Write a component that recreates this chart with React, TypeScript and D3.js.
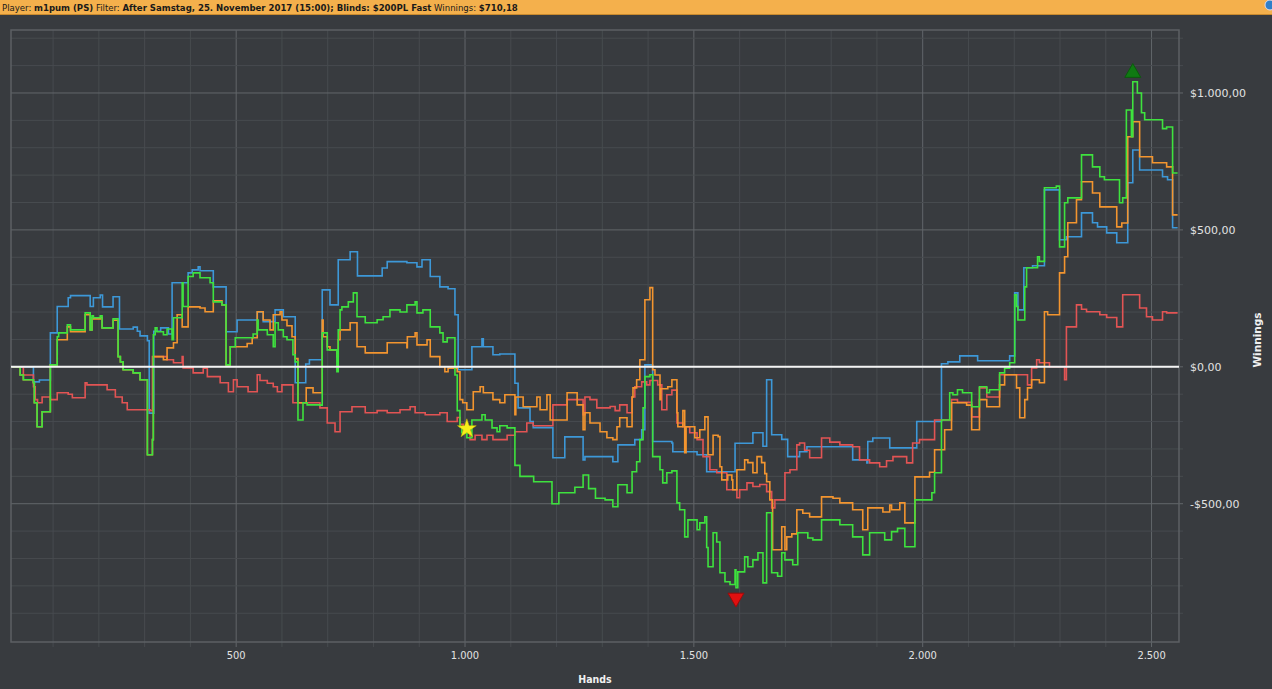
import React from 'react';
import * as d3 from 'd3';

// hands / winnings (step vertices)
const blueHands = [11, 57, 70, 94, 109, 133, 138, 181, 188, 203, 208, 231, 245, 275, 284, 290, 306, 310, 320, 335, 352, 360, 395, 404, 417, 421, 450, 478, 502, 546, 559, 585, 603, 629, 652, 660, 688, 705, 723, 749, 765, 819, 830, 873, 895, 906, 924, 945, 963, 978, 985, 1015, 1037, 1040, 1061, 1076, 1109, 1116, 1142, 1149, 1192, 1218, 1258, 1262, 1295, 1323, 1334, 1371, 1386, 1393, 1410, 1452, 1454, 1507, 1528, 1590, 1629, 1651, 1659, 1670, 1692, 1705, 1731, 1747, 1847, 1878, 1880, 1891, 1928, 1987, 2041, 2055, 2081, 2120, 2190, 2201, 2208, 2221, 2240, 2266, 2299, 2314, 2347, 2371, 2382, 2402, 2424, 2448, 2459, 2474, 2524, 2535, 2546, 2557];
const blueValues = [0, -55, -48, 124, 220, 252, 260, 220, 252, 262, 219, 256, 138, 145, 130, 113, 95, -169, 130, 142, 120, 307, 343, 354, 365, 351, 292, 128, 171, 200, 165, 208, 183, -58, 10, 26, 281, 226, 391, 420, 332, 361, 384, 380, 365, 391, 330, 292, 285, 190, -11, 73, 102, 73, 44, 47, -60, -150, -200, -222, -332, -256, -340, -328, -328, -347, -285, -266, -230, 7, -273, -278, -310, -321, -383, -279, -241, -290, -47, -248, -265, -328, -310, -292, -340, -351, -273, -260, -296, -200, 11, 18, 40, 22, 40, 270, 208, 362, 369, 646, 464, 475, 562, 526, 511, 489, 453, 672, 792, 719, 694, 683, 508, 508];

const greenHands = [11, 28, 35, 57, 59, 65, 76, 94, 109, 112, 131, 138, 170, 181, 185, 188, 203, 207, 231, 242, 247, 253, 275, 290, 306, 317, 319, 323, 327, 341, 349, 360, 363, 382, 384, 395, 406, 421, 443, 450, 469, 478, 487, 498, 537, 546, 548, 568, 581, 585, 592, 603, 611, 624, 629, 635, 646, 655, 683, 688, 699, 720, 723, 727, 731, 745, 756, 764, 782, 808, 821, 836, 858, 873, 891, 895, 908, 924, 945, 952, 961, 978, 983, 989, 993, 1004, 1015, 1037, 1044, 1059, 1070, 1076, 1092, 1109, 1120, 1150, 1190, 1205, 1240, 1258, 1270, 1285, 1306, 1323, 1334, 1354, 1365, 1375, 1382, 1389, 1393, 1404, 1410, 1426, 1432, 1441, 1452, 1463, 1469, 1480, 1487, 1507, 1513, 1524, 1528, 1531, 1542, 1550, 1557, 1568, 1579, 1590, 1592, 1596, 1611, 1618, 1629, 1640, 1651, 1659, 1670, 1683, 1692, 1699, 1716, 1727, 1749, 1760, 1779, 1819, 1847, 1869, 1884, 1917, 1932, 1945, 1961, 1983, 2020, 2026, 2041, 2059, 2066, 2076, 2087, 2107, 2124, 2140, 2146, 2168, 2179, 2190, 2201, 2205, 2208, 2223, 2227, 2251, 2255, 2266, 2292, 2299, 2310, 2317, 2347, 2371, 2387, 2397, 2430, 2437, 2445, 2456, 2459, 2469, 2478, 2485, 2524, 2533, 2546, 2557];
const greenValues = [0, -30, -47, -58, -131, -219, -164, 7, 110, 124, 153, 135, 197, 135, 186, 179, 186, 142, 175, 37, 18, -11, -22, -47, -321, -266, 117, 142, 128, 117, 138, 99, 179, 307, 220, 330, 343, 325, 307, 237, 226, 7, 73, 106, 120, 171, 135, 117, 73, 161, 135, 110, 99, 44, 18, -194, -131, -139, -140, 124, 62, -18, 135, 208, 219, 237, 270, 183, 161, 172, 183, 208, 200, 226, 237, 197, 208, 146, 124, 91, 106, -30, -160, -219, -241, -259, -194, -175, -194, -223, -237, -215, -223, -360, -400, -420, -500, -460, -440, -395, -445, -480, -486, -511, -431, -460, -383, -347, -266, -150, -36, -29, -328, -376, -424, -387, -380, -497, -522, -621, -559, -595, -570, -548, -660, -730, -606, -640, -752, -785, -795, -741, -807, -749, -694, -730, -705, -679, -789, -533, -752, -765, -679, -705, -723, -606, -625, -632, -559, -577, -621, -687, -606, -632, -602, -590, -657, -486, -460, -387, -194, -95, -102, -84, -95, -146, -73, -95, -84, -22, -5, 15, 263, 220, 171, 292, 362, 402, 385, 654, 660, 438, 599, 617, 774, 730, 694, 683, 599, 617, 938, 840, 1041, 1000, 928, 902, 870, 876, 708, 708];

const orangeHands = [11, 28, 35, 57, 59, 65, 76, 94, 109, 131, 138, 170, 181, 185, 188, 203, 207, 231, 242, 247, 253, 275, 290, 306, 317, 319, 341, 349, 363, 371, 382, 395, 421, 432, 450, 469, 478, 487, 524, 535, 546, 559, 574, 581, 596, 600, 611, 622, 629, 635, 653, 668, 688, 690, 699, 705, 720, 723, 727, 749, 764, 782, 830, 873, 874, 891, 895, 917, 924, 945, 956, 963, 983, 989, 995, 1004, 1018, 1033, 1040, 1061, 1076, 1087, 1109, 1111, 1127, 1157, 1164, 1179, 1186, 1223, 1245, 1258, 1262, 1273, 1295, 1310, 1323, 1332, 1338, 1354, 1365, 1367, 1375, 1382, 1393, 1404, 1410, 1415, 1426, 1428, 1443, 1452, 1463, 1465, 1476, 1480, 1483, 1502, 1513, 1524, 1531, 1542, 1553, 1557, 1561, 1574, 1583, 1585, 1594, 1611, 1618, 1629, 1638, 1648, 1655, 1659, 1666, 1672, 1692, 1699, 1703, 1714, 1725, 1738, 1753, 1779, 1804, 1819, 1847, 1869, 1880, 1913, 1928, 1932, 1950, 1961, 1983, 2015, 2026, 2048, 2063, 2096, 2107, 2124, 2140, 2168, 2179, 2205, 2212, 2223, 2229, 2238, 2255, 2266, 2273, 2299, 2310, 2317, 2336, 2347, 2371, 2387, 2424, 2435, 2448, 2459, 2474, 2502, 2533, 2546, 2557];
const orangeValues = [0, -30, -47, -58, -131, -219, -164, 7, 99, 146, 128, 190, 135, 180, 175, 180, 142, 170, 37, 18, -11, -22, -47, -321, -266, 37, 26, 69, 88, 190, 146, 219, 215, 201, 241, 226, 7, 73, 85, 106, 201, 171, 135, 190, 201, 171, 150, 110, 30, -131, -77, -95, 171, 110, 73, 62, 37, 99, 135, 161, 73, 51, 88, 70, 110, 124, 80, 99, 37, 0, -18, -5, -18, -120, -131, -157, -91, -73, -95, -120, -131, -102, -175, -110, -146, -110, -157, -102, -194, -95, -139, -230, -168, -205, -237, -259, -266, -219, -186, -219, -110, -77, -47, 26, 245, 289, -11, -30, -120, -80, -73, -47, -168, -219, -160, -314, -219, -259, -230, -183, -321, -250, -255, -365, -413, -395, -413, -449, -376, -340, -350, -387, -328, -350, -390, -420, -486, -668, -584, -668, -621, -610, -522, -535, -548, -475, -480, -497, -522, -595, -515, -530, -505, -522, -497, -570, -402, -385, -303, -230, -131, -140, -230, -120, -146, -66, -29, -77, -186, -120, -77, -47, -58, 201, 190, 343, 402, 526, 610, 676, 635, 584, 511, 525, 840, 895, 767, 745, 730, 555, 555];

const redHands = [11, 35, 57, 61, 66, 76, 94, 109, 133, 142, 170, 174, 218, 236, 251, 262, 312, 317, 349, 363, 382, 384, 406, 428, 437, 465, 483, 494, 502, 526, 546, 552, 568, 581, 590, 600, 624, 683, 699, 716, 727, 753, 782, 808, 830, 858, 880, 891, 913, 945, 961, 983, 989, 996, 1011, 1022, 1037, 1048, 1061, 1092, 1109, 1135, 1149, 1192, 1223, 1258, 1262, 1273, 1288, 1317, 1328, 1338, 1354, 1365, 1371, 1386, 1397, 1404, 1421, 1430, 1441, 1452, 1463, 1476, 1491, 1507, 1520, 1535, 1550, 1572, 1594, 1600, 1616, 1629, 1644, 1659, 1670, 1677, 1699, 1710, 1725, 1731, 1742, 1753, 1779, 1797, 1819, 1847, 1862, 1884, 1906, 1921, 1935, 1965, 1978, 1993, 2026, 2063, 2076, 2107, 2124, 2140, 2168, 2229, 2238, 2249, 2255, 2277, 2310, 2314, 2336, 2347, 2358, 2387, 2402, 2424, 2437, 2474, 2489, 2502, 2524, 2533, 2557];
const redValues = [0, -30, -73, -120, -131, -110, -120, -95, -100, -113, -58, -66, -84, -110, -131, -157, -160, 37, 26, 15, 37, -4, -22, -5, -36, -58, -91, -47, -73, -91, -29, -50, -60, -73, -91, -66, -131, -150, -205, -237, -164, -146, -168, -160, -168, -157, -146, -168, -175, -168, -200, -185, -210, -241, -266, -250, -266, -250, -266, -250, -237, -205, -215, -139, -120, -175, -110, -120, -150, -145, -160, -139, -168, -110, -73, -55, -66, -50, -66, -157, -102, -85, -205, -219, -241, -266, -328, -376, -387, -449, -478, -449, -424, -437, -430, -456, -515, -486, -387, -376, -285, -278, -305, -332, -260, -275, -285, -292, -340, -351, -365, -343, -328, -351, -278, -266, -194, -120, -130, -183, -77, -110, -29, -66, -4, 26, 15, 0, -47, 146, 226, 210, 201, 190, 180, 146, 263, 215, 183, 171, 201, 197, 197];

const seriesNames = ['blue', 'red', 'orange', 'green'];
const seriesColors = ['#3d98d8', '#e25454', '#f3952f', '#3ee23e'];
const seriesHands = [blueHands, redHands, orangeHands, greenHands];
const seriesValues = [blueValues, redValues, orangeValues, greenValues];

const yTickValues = [1000, 500, 0, -500];
const yTickLabels = ['$1.000,00', '$500,00', '$0,00', '-$500,00'];
const xTickValues = [500, 1000, 1500, 2000, 2500];
const xTickLabels = ['500', '1.000', '1.500', '2.000', '2.500'];

// markers: [hand, winnings]
const maxPoint = [2459, 1041];
const minPoint = [1592, -807];
const starPoint = [1004, -226];

const W = 1272;
const H = 689;
const BG = '#383b3f';

const App: React.FC = () => {
  const x = d3.scaleLinear().domain([8, 2560]).range([11, 1179]);
  const y = d3.scaleLinear().domain([-1005, 1230]).range([642, 30]);

  const line = d3
    .line<[number, number]>()
    .x((d) => x(d[0]))
    .y((d) => y(d[1]))
    .curve(d3.curveStepAfter);

  const vGrid = d3.range(100, 2560, 100);
  const hGrid = d3.range(-900, 1230, 100);

  const tri = d3.symbol().type(d3.symbolTriangle).size(110)()!;
  const star = d3.symbol().type(d3.symbolStar).size(110)()!;

  return (
    <svg
      width={W}
      height={H}
      style={{ position: 'absolute', left: 0, top: 0, background: BG }}
      fontFamily="'DejaVu Sans', sans-serif"
    >
      <rect x={0} y={0} width={W} height={H} fill={BG} />
      {/* header */}
      <rect x={0} y={0} width={W} height={14} fill="#f4b04c" />
      <line x1={0} x2={W} y1={14.5} y2={14.5} stroke="#c98a2e" />
      <text x={2} y={10.5} fontSize={9.5} fill="#1a1a1a" fontFamily="'DejaVu Sans Condensed', 'DejaVu Sans', sans-serif">
        <tspan>Player: </tspan>
        <tspan fontWeight="bold">m1pum (PS)</tspan>
        <tspan> Filter: </tspan>
        <tspan fontWeight="bold">After Samstag, 25. November 2017 (15:00); Blinds: $200PL Fast</tspan>
        <tspan> Winnings: </tspan>
        <tspan fontWeight="bold">$710,18</tspan>
      </text>
      <circle cx={1270} cy={5} r={5} fill="#2f7fc9" stroke="#dde" strokeWidth={1} />

      {/* grid */}
      {vGrid.map((h) => (
        <line
          key={'v' + h}
          x1={x(h)}
          x2={x(h)}
          y1={30}
          y2={647}
          stroke={h % 500 === 0 ? '#62666a' : '#474b4f'}
          strokeWidth={1}
        />
      ))}
      {hGrid.map((v) => (
        <line
          key={'h' + v}
          x1={11}
          x2={1183}
          y1={y(v)}
          y2={y(v)}
          stroke={v % 500 === 0 ? '#62666a' : '#474b4f'}
          strokeWidth={1}
        />
      ))}
      <rect x={11} y={30} width={1168} height={612} fill="none" stroke="#5c6064" strokeWidth={1.5} />

      {/* series */}
      {seriesNames.map((name, i) => {
        const pts = seriesHands[i].map((h, j) => [h, seriesValues[i][j]] as [number, number]);
        return (
          <path key={name} d={line(pts)!} fill="none" stroke={seriesColors[i]} strokeWidth={1.6} />
        );
      })}

      {/* zero line */}
      <line x1={11} x2={1179} y1={y(0)} y2={y(0)} stroke="#f4f4f4" strokeWidth={2} />

      {/* markers */}
      <path d={tri} transform={`translate(${x(maxPoint[0])},${y(maxPoint[1]) - 9})`} fill="#0f7a12" stroke="#0a5a0c" />
      <path d={tri} transform={`translate(${x(minPoint[0])},${y(minPoint[1]) + 10}) rotate(180)`} fill="#e01010" stroke="#9a0a0a" />
      <path d={star} transform={`translate(${x(starPoint[0])},${y(starPoint[1])})`} fill="#f6ef1a" stroke="#c9b800" strokeWidth={0.5} />

      {/* y axis labels */}
      {yTickValues.map((v, i) => (
        <text key={'yl' + v} x={1190} y={y(v) + 4} fontSize={11} fill="#e2e2e2">
          {yTickLabels[i]}
        </text>
      ))}
      <text
        transform={`translate(${1261},${340}) rotate(-90)`}
        textAnchor="middle"
        fontSize={10.5}
        fontWeight="bold"
        fill="#f0f0f0"
      >
        Winnings
      </text>

      {/* x axis labels */}
      {xTickValues.map((v, i) => (
        <text key={'xl' + v} x={x(v)} y={659} textAnchor="middle" fontSize={11} fill="#e2e2e2"
          fontFamily="'DejaVu Sans Condensed', 'DejaVu Sans', sans-serif">
          {xTickLabels[i]}
        </text>
      ))}
      <text x={595} y={683} textAnchor="middle" fontSize={10.5} fontWeight="bold" fill="#f0f0f0"
        fontFamily="'DejaVu Sans Condensed', 'DejaVu Sans', sans-serif">
        Hands
      </text>
    </svg>
  );
};

export default App;
